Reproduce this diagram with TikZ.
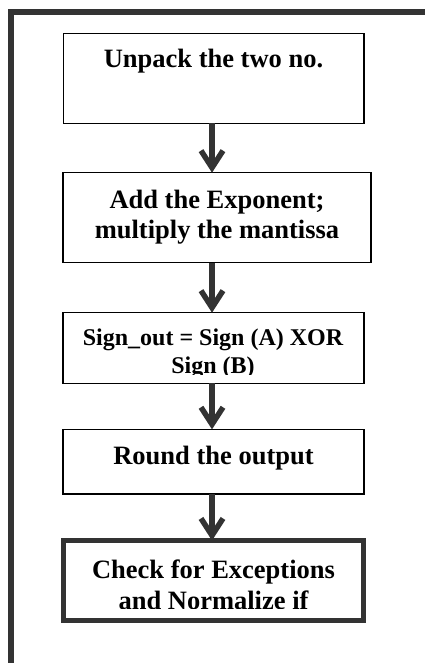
\documentclass[tikz,border=0pt]{standalone}
\usepackage{fontspec}
\setmainfont{Liberation Serif}
\usetikzlibrary{arrows.meta}
\definecolor{frame}{HTML}{333333}
\begin{document}
\begin{tikzpicture}[x=1pt,y=-1pt,
  box/.style={draw=black, line width=1.2pt, rectangle, inner sep=0pt, outer sep=0pt, fill=white},
  endbox/.style={draw=frame, line width=5pt, rectangle, inner sep=0pt, outer sep=0pt, fill=white},
  txt/.style={anchor=base, inner sep=0pt, font=\bfseries\fontsize{26.5}{30}\selectfont},
  smalltxt/.style={anchor=base, inner sep=0pt, font=\bfseries\fontsize{24}{27}\selectfont},
  arr/.style={draw=frame, line width=5.5pt, -{Straight Barb[length=17pt,width=22pt,line width=5.5pt]}}]
\useasboundingbox (0,0) rectangle (424,663);
\fill[white] (0,0) rectangle (424,663);
% outer frame
\draw[frame, line width=5.5pt, line join=miter] (11,680) -- (11,12) -- (440,12);
% boxes
\node[box, minimum width=300.7pt, minimum height=90pt] (b1) at (213.7,78.3) {};
\node[box, minimum width=308pt, minimum height=90pt] (b2) at (217,217.7) {};
\node[box, minimum width=301pt, minimum height=70.6pt] (b3) at (213.5,348) {};
\node[box, minimum width=301pt, minimum height=64.7pt] (b4) at (213.5,461.7) {};
\node[endbox, minimum width=300pt, minimum height=80pt] (b5) at (213.5,580.5) {};
% texts
\node[txt] (t1) at (213.5,68) {Unpack the two no.};
\node[txt] (t2a) at (217,208) {Add the Exponent;};
\node[txt] (t2b) at (217,238) {multiply the mantissa};
\begin{scope}
\clip (63,313) rectangle (364,374.5);
\node[smalltxt] (t3a) at (213,345.7) {Sign\_out = Sign (A) XOR};
\node[smalltxt] (t3b) at (213,373) {Sign (B)};
\end{scope}
\node[txt] (t4) at (213.5,464.5) {Round the output};
\begin{scope}
\clip (66,543) rectangle (361,608.5);
\node[txt] (t5a) at (213.5,578) {Check for Exceptions};
\node[txt] (t5b) at (213.5,609.5) {and Normalize if};
\end{scope}
% arrows
\coordinate (ax) at (212,0);
\draw[arr] (b1.south -| ax) -- (b2.north -| ax);
\draw[arr] (b2.south -| ax) -- (b3.north -| ax);
\draw[arr] (b3.south -| ax) -- (b4.north -| ax);
\draw[arr] (b4.south -| ax) -- (b5.north -| ax);
\end{tikzpicture}
\end{document}
